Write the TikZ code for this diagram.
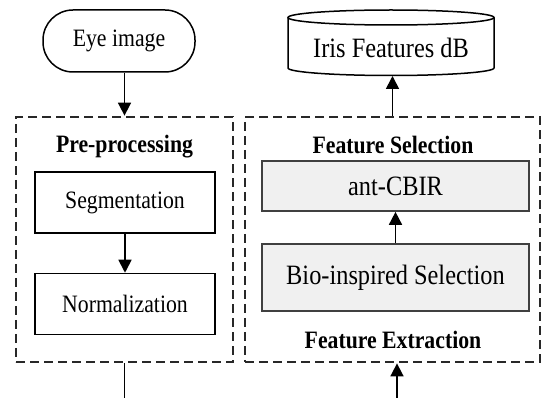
\documentclass[tikz,border=0pt]{standalone}
\usepackage{fontspec}
\setmainfont[FakeStretch=0.87]{Liberation Serif}
\usetikzlibrary{positioning,arrows.meta}
\definecolor{boxfill}{RGB}{240,240,240}
\definecolor{boxline}{RGB}{64,64,64}
\definecolor{dashline}{RGB}{40,40,40}

\begin{document}
\begin{tikzpicture}[
        x=1pt, y=-1pt,
        node distance=39pt,
        plain/.style={rectangle, draw=black, line width=1.5pt, minimum width=180pt, minimum height=61pt, text centered, font=\fontsize{25}{30}\selectfont},
        grey/.style={rectangle, draw=boxline, fill=boxfill, line width=1.7pt, minimum width=267pt, text centered, font=\fontsize{28}{33}\selectfont},
        term/.style={rectangle, rounded corners=30pt, draw=black, line width=1.5pt, minimum width=152pt, minimum height=62pt, font=\fontsize{25}{30}\selectfont},
        title/.style={font=\fontsize{25}{30}\selectfont\bfseries},
        group/.style={rectangle, draw=dashline, line width=2.8pt, dash pattern=on 9pt off 5pt},
        arrow/.style={-{Triangle[length=13pt,width=13pt]}, line width=1.7pt}
    ]

    \useasboundingbox (0,0) rectangle (542,398);

    % left column
    \node[term] (eye) at (119,41) {Eye image};
    \node[group, minimum width=217pt, minimum height=245pt] (pre) at (124.5,239.5) {};
    \node[title] (pretitle) at (124.5,147) {Pre-processing};
    \node[plain] (seg) at (125,202.5) {Segmentation};
    \node[plain, below=of seg] (norm) {Normalization};
    \coordinate (out) at (124.5,398);

    % right column
    \node[group, minimum width=295pt, minimum height=245pt] (feat) at (392.5,239.5) {};
    \node[title] (seltitle) at (393,145) {Feature Selection};
    \node[grey, minimum height=50pt] (ant) at (395.5,186) {ant-CBIR};
    \node[grey, minimum height=67pt] (bio) at (395.5,277.5) {Bio-inspired Selection};
    \node[title] (extitle) at (393,340) {Feature Extraction};
    \coordinate (in) at (397,398);

    % database
    \node[font=\fontsize{28}{33}\selectfont] (db) at (391,48) {Iris Features dB};
    \coordinate (dbin) at (392.5,76);
    \draw[line width=1.5pt] (391,17.5) ellipse [x radius=103pt, y radius=7.5pt];
    \draw[line width=1.5pt] (288,17.5) -- (288,68)
        arc [start angle=180, end angle=360, x radius=103pt, y radius=7.5pt] -- (494,17.5);

    \draw[arrow] (pre.north |- eye.south) -- (pre.north);
    \draw[arrow] (seg) -- (norm);
    \draw[line width=1.7pt] (pre.south) -- (out);
    \draw[arrow] (in) -- (in |- feat.south);
    \draw[arrow] (bio) -- (ant);
    \draw[arrow] (feat.north) -- (dbin);

\end{tikzpicture}
\end{document}
